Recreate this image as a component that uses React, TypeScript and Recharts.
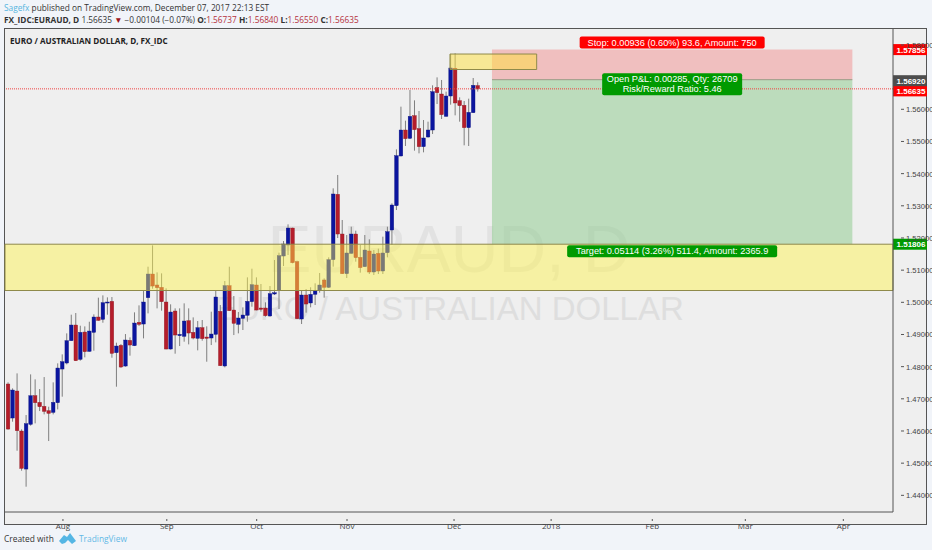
import {
  ComposedChart,
  Bar,
  XAxis,
  YAxis,
  ReferenceArea,
  ReferenceLine,
} from "recharts";

const opens = [
  1.4746, 1.46403, 1.47242, 1.45999, 1.44817, 1.46206, 1.47097, 1.4689, 1.46765, 1.46631, 1.46579, 1.46879, 1.47926,
  1.48113, 1.48807, 1.49294, 1.48227, 1.49076, 1.48475, 1.49066, 1.49543, 1.4947, 1.49988, 1.5003, 1.48434, 1.48662,
  1.48019, 1.48817, 1.48651, 1.49377, 1.49325, 1.50144, 1.50879, 1.50538, 1.50465, 1.50009, 1.48548, 1.49729, 1.48963,
  1.48942, 1.49429, 1.49066, 1.4888, 1.49211, 1.48921, 1.4889, 1.49004, 1.49719, 1.4802, 1.50517, 1.4976, 1.49315,
  1.49501, 1.49595, 1.50019, 1.50538, 1.49823, 1.49823, 1.49574, 1.50258, 1.50372, 1.51439, 1.51781, 1.52309, 1.51263,
  1.49481, 1.50227, 1.49979, 1.50248, 1.50362, 1.50694, 1.50466, 1.51326, 1.53357, 1.52123, 1.5089, 1.51522, 1.52123,
  1.51398, 1.51108, 1.51595, 1.50942, 1.51522, 1.50973, 1.51543, 1.52248, 1.53004, 1.54548, 1.55356, 1.55097, 1.55802,
  1.55398, 1.54838, 1.55139, 1.55356, 1.56672, 1.56475, 1.55781, 1.56413, 1.57273, 1.56268, 1.56123, 1.55429, 1.55895,
  1.56737,
];
const highs = [
  1.47512, 1.47325, 1.47791, 1.46051, 1.46496, 1.4776, 1.47605, 1.47304, 1.47677, 1.46755, 1.47512, 1.48102, 1.48382,
  1.49035, 1.49615, 1.49667, 1.49273, 1.49252, 1.49397, 1.49625, 1.50144, 1.50216, 1.50154, 1.50164, 1.48745, 1.48703,
  1.49014, 1.4891, 1.49688, 1.49905, 1.50351, 1.51107, 1.5177, 1.50931, 1.509, 1.50434, 1.49937, 1.49812, 1.49812,
  1.49968, 1.49812, 1.49532, 1.49418, 1.4945, 1.49253, 1.49709, 1.50351, 1.49916, 1.50662, 1.51107, 1.50196, 1.49698,
  1.49843, 1.50776, 1.51045, 1.50776, 1.50569, 1.49999, 1.50506, 1.51315, 1.51543, 1.51905, 1.52423, 1.5232, 1.51294,
  1.50382, 1.50413, 1.50466, 1.5059, 1.50911, 1.50745, 1.51398, 1.53543, 1.53958, 1.52559, 1.52092, 1.52351, 1.52227,
  1.51782, 1.52092, 1.51958, 1.51626, 1.51668, 1.52041, 1.52351, 1.53077, 1.54755, 1.56082, 1.55646, 1.566, 1.56278,
  1.55947, 1.55667, 1.55615, 1.56745, 1.56993, 1.56911, 1.56548, 1.57719, 1.5774, 1.56372, 1.56258, 1.5633, 1.56973,
  1.5684,
];
const lows = [
  1.4604, 1.46289, 1.45387, 1.44766, 1.44268, 1.46165, 1.46237, 1.4662, 1.46517, 1.45688, 1.46517, 1.46672, 1.47066,
  1.48071, 1.488, 1.48175, 1.48185, 1.48289, 1.48465, 1.48496, 1.49429, 1.49366, 1.49615, 1.48278, 1.47377, 1.47967,
  1.47999, 1.48341, 1.48641, 1.49263, 1.48879, 1.49656, 1.50423, 1.49812, 1.4974, 1.4854, 1.4853, 1.48403, 1.48641,
  1.48776, 1.48693, 1.48849, 1.48507, 1.48807, 1.48154, 1.48672, 1.48755, 1.4802, 1.47978, 1.4973, 1.48983, 1.49035,
  1.49139, 1.49398, 1.49864, 1.4975, 1.49708, 1.49553, 1.4956, 1.50227, 1.49791, 1.51128, 1.5147, 1.51211, 1.4948,
  1.49325, 1.49678, 1.49844, 1.49916, 1.503, 1.50144, 1.50445, 1.51108, 1.51999, 1.5088, 1.50756, 1.5151, 1.51263,
  1.50922, 1.511, 1.5088, 1.50849, 1.5088, 1.5088, 1.51398, 1.51782, 1.52869, 1.5454, 1.54859, 1.55076, 1.54714,
  1.54631, 1.54662, 1.55118, 1.55232, 1.56164, 1.55698, 1.55771, 1.56144, 1.55812, 1.55615, 1.5488, 1.54859, 1.55885,
  1.5655,
];
const closes = [
  1.46061, 1.47273, 1.46009, 1.44838, 1.46227, 1.47097, 1.46879, 1.46755, 1.4661, 1.46548, 1.4689, 1.47957, 1.48154,
  1.48807, 1.49294, 1.48185, 1.49066, 1.48465, 1.49107, 1.49543, 1.49439, 1.49988, 1.50009, 1.48413, 1.48641, 1.47988,
  1.48828, 1.48672, 1.49356, 1.49315, 1.50009, 1.50879, 1.50506, 1.50455, 1.50019, 1.48548, 1.49698, 1.48983, 1.49004,
  1.49418, 1.49045, 1.4889, 1.49211, 1.48869, 1.4888, 1.49014, 1.50165, 1.4803, 1.50517, 1.4974, 1.49346, 1.49512,
  1.49605, 1.5003, 1.50548, 1.4976, 1.49781, 1.49584, 1.50268, 1.50299, 1.51449, 1.51812, 1.52309, 1.51232, 1.49491,
  1.50227, 1.49947, 1.50248, 1.50372, 1.50538, 1.50466, 1.51326, 1.53367, 1.52123, 1.5089, 1.51533, 1.52123, 1.51388,
  1.51077, 1.51626, 1.50942, 1.51502, 1.50973, 1.51533, 1.52196, 1.53025, 1.54558, 1.55356, 1.55087, 1.55781, 1.55367,
  1.54838, 1.55108, 1.55356, 1.56548, 1.56517, 1.55833, 1.56413, 1.57284, 1.56196, 1.56113, 1.55429, 1.55905, 1.56745,
  1.56635,
];

const dateTicks = [12.1, 35.1, 55, 75, 98.7, 120.2, 142.6, 163.2, 184.9];
const dateLabels = ["Aug", "Sep", "Oct", "Nov", "Dec", "2018", "Feb", "Mar", "Apr"];
const priceTicks = [1.44, 1.45, 1.46, 1.47, 1.48, 1.49, 1.5, 1.51, 1.52, 1.53, 1.54, 1.55, 1.56, 1.58];

const candles = opens.map((open, i) => ({
  i,
  open,
  high: highs[i],
  low: lows[i],
  close: closes[i],
  range: [lows[i], highs[i]],
}));

const ENTRY = 1.5692;
const STOP = 1.57856;
const TARGET = 1.51806;
const LAST = 1.56635;
const ZONE_LOW = 1.50367;
const TOOL_START = 107.1;
const TOOL_END = 186.9;

const sans = "'Open Sans', sans-serif";
const arial = "'Liberation Sans', Arial, sans-serif";

function Candle(props: any) {
  const { x, y, width, height, payload } = props;
  const perUnit = height / (payload.high - payload.low);
  const cx = x + width / 2;
  const top = y + (payload.high - Math.max(payload.open, payload.close)) * perUnit;
  const bodyH = Math.max(Math.abs(payload.open - payload.close) * perUnit, 1);
  const up = payload.close >= payload.open;
  const fill = up ? "#0b159f" : "#b51d2b";
  return (
    <g>
      <line x1={cx} x2={cx} y1={y} y2={y + height} stroke="#7f7f7f" strokeWidth={1} />
      <rect x={cx - 1.8} y={top} width={3.6} height={bodyH} fill={fill} stroke={up ? "#0a1280" : "#8f1822"} strokeWidth={0.4} />
    </g>
  );
}

function PriceTag({ viewBox, text, fill, dy = 0 }: any) {
  const right = viewBox.x + viewBox.width;
  const cy = viewBox.y + dy;
  return (
    <g>
      <rect x={right} y={cy - 5.5} width={34} height={11} fill={fill} />
      <text x={right + 18} y={cy + 3} textAnchor="middle" fontFamily={arial} fontSize={8} fontWeight={700} fill="#ffffff">
        {text}
      </text>
    </g>
  );
}

function Pill({ viewBox, lines, fill, w, dy = 0 }: any) {
  const cx = viewBox.x + viewBox.width / 2;
  const h = lines.length * 10 + 2;
  const cy = viewBox.y + dy;
  return (
    <g>
      <rect x={cx - w / 2} y={cy - h / 2} width={w} height={h} rx={2} fill={fill} />
      {lines.map((t: string, k: number) => (
        <text
          key={t}
          x={cx}
          y={cy - h / 2 + 9 + k * 10}
          textAnchor="middle"
          fontFamily={arial}
          fontSize={9.2}
          fill="#ffffff"
        >
          {t}
        </text>
      ))}
    </g>
  );
}

function DateTick({ x, y, payload }: any) {
  const label = dateLabels[dateTicks.indexOf(payload.value)];
  return (
    <g>
      <line x1={x} x2={x} y1={y - 1} y2={y + 1} stroke="#555" />
      <text x={x} y={y + 9} textAnchor="middle" fontFamily={sans} fontSize={8} fill="#444">
        {label}
      </text>
    </g>
  );
}

function PriceTick({ x, y, payload }: any) {
  return (
    <g>
      <line x1={x} x2={x + 3} y1={y} y2={y} stroke="#555" />
      <text x={x + 5} y={y + 3} fontFamily={arial} fontSize={7.6} fill="#444">
        {payload.value.toFixed(5)}
      </text>
    </g>
  );
}

function Header() {
  const red = { color: "#b5323c" };
  return (
    <div style={{ position: "absolute", left: 4, top: 2, fontFamily: sans, fontSize: 8.3, color: "#333", whiteSpace: "nowrap" }}>
      <div style={{ lineHeight: "12px" }}>
        <span style={{ color: "#56b4e0" }}>Sagefx</span> published on TradingView.com, December 07, 2017 22:13 EST
      </div>
      <div style={{ lineHeight: "12px" }}>
        <b>FX_IDC:EURAUD, D</b> 1.56635 <span style={{ color: "#9c1420" }}>▼</span> −0.00104 (−0.07%) <b>O:</b>
        <span style={red}>1.56737</span> <b>H:</b>
        <span style={red}>1.56840</span> <b>L:</b>
        <span style={red}>1.56550</span> <b>C:</b>
        <span style={red}>1.56635</span>
      </div>
    </div>
  );
}

function Footer() {
  return (
    <div style={{ position: "absolute", left: 4, top: 532, fontFamily: sans, fontSize: 8.4, lineHeight: "13px", color: "#333", whiteSpace: "nowrap" }}>
      Created with
      <svg width={17} height={11} style={{ position: "absolute", left: 55, top: 1 }}>
        <path d="M0 8 L5 2 L8 4 L11 0 L17 8 L13 11 L9 7 L6 10 L3 11 Z" fill="#55b6e4" />
      </svg>
      <span style={{ position: "absolute", left: 75, color: "#63b9e6" }}>TradingView</span>
    </div>
  );
}

export default function App() {
  return (
    <div style={{ position: "absolute", left: 0, top: 0, width: 932, height: 550, background: "#f1f4f9", overflow: "hidden" }}>
      <Header />
      <div style={{ position: "absolute", left: 4, top: 28, width: 923, height: 497, background: "#efefef", boxSizing: "border-box", border: "1px solid #555" }} />
      <div style={{ position: "absolute", left: 10, top: 35, fontFamily: sans, fontSize: 8.1, fontWeight: 700, color: "#222", whiteSpace: "nowrap" }}>
        EURO / AUSTRALIAN DOLLAR, D, FX_IDC
      </div>
      <div style={{ position: "absolute", left: 5, width: 888, top: 204, textAlign: "center", fontFamily: arial, fontSize: 66, lineHeight: "90px", color: "#e2e2e2", whiteSpace: "nowrap" }}>
        EURAUD, D
      </div>
      <div style={{ position: "absolute", left: 5, width: 888, top: 289, textAlign: "center", fontFamily: arial, fontSize: 33, lineHeight: "40px", color: "#dedede", whiteSpace: "nowrap" }}>
        EURO / AUSTRALIAN DOLLAR
      </div>
      <ComposedChart
        width={932}
        height={550}
        data={candles}
        margin={{ top: 29, right: 5, bottom: 26, left: 5 }}
        style={{ position: "absolute", left: 0, top: 0 }}
      >
        <XAxis
          dataKey="i"
          type="number"
          domain={[-0.73, 195.9]}
          ticks={dateTicks}
          interval={0}
          height={12}
          tick={<DateTick />}
          tickLine={false}
          axisLine={{ stroke: "#555" }}
          allowDataOverflow
        />
        <YAxis
          orientation="right"
          type="number"
          domain={[1.43482, 1.58496]}
          ticks={priceTicks}
          interval={0}
          width={34}
          tick={<PriceTick />}
          tickLine={false}
          axisLine={{ stroke: "#555" }}
          allowDataOverflow
        />
        <ReferenceArea x1={TOOL_START} x2={TOOL_END} y1={ENTRY} y2={STOP} fill="#f29090" fillOpacity={0.5} stroke="none" />
        <ReferenceArea x1={TOOL_START} x2={TOOL_END} y1={TARGET} y2={ENTRY} fill="#92cc92" fillOpacity={0.55} stroke="none" />
        <Bar dataKey="range" barSize={4} isAnimationActive={false} shape={<Candle />} />
        <ReferenceArea
          y1={ZONE_LOW}
          y2={TARGET}
          fill="#fff546"
          fillOpacity={0.45}
          stroke="#8f8a4a"
          strokeWidth={1}
          zIndex={350}
        />
        <ReferenceArea
          x1={97.8}
          x2={117}
          y1={1.57237}
          y2={1.57718}
          fill="#ffe23c"
          fillOpacity={0.5}
          stroke="#8f8a4a"
          strokeWidth={1}
          zIndex={350}
        />
        <ReferenceLine
          segment={[{ x: TOOL_START, y: ENTRY }, { x: TOOL_END, y: ENTRY }]}
          stroke="#9a9a84"
          strokeWidth={1}
          zIndex={360}
        />
        <ReferenceLine y={LAST} stroke="#f04040" strokeWidth={1} strokeDasharray="1 1" zIndex={370} label={<PriceTag text="1.56635" fill="#ff0000" dy={2} />} />
        <ReferenceLine y={ENTRY} stroke="none" label={<PriceTag text="1.56920" fill="#4d4d4d" dy={1} />} />
        <ReferenceLine y={STOP} stroke="none" label={<PriceTag text="1.57856" fill="#ff0000" />} />
        <ReferenceLine y={TARGET} stroke="none" label={<PriceTag text="1.51806" fill="#009a00" />} />
        <ReferenceLine
          segment={[{ x: TOOL_START, y: STOP }, { x: TOOL_END, y: STOP }]}
          stroke="none"
          label={<Pill lines={["Stop: 0.00936 (0.60%) 93.6, Amount: 750"]} fill="#ff0000" w={185} dy={-7} />}
        />
        <ReferenceLine
          segment={[{ x: TOOL_START, y: ENTRY }, { x: TOOL_END, y: ENTRY }]}
          stroke="none"
          label={<Pill lines={["Open P&L: 0.00285, Qty: 26709", "Risk/Reward Ratio: 5.46"]} fill="#009a00" w={140} dy={4.5} />}
        />
        <ReferenceLine
          segment={[{ x: TOOL_START, y: TARGET }, { x: TOOL_END, y: TARGET }]}
          stroke="none"
          label={<Pill lines={["Target: 0.05114 (3.26%) 511.4, Amount: 2365.9"]} fill="#009a00" w={210} dy={7} />}
        />
      </ComposedChart>
      <Footer />
    </div>
  );
}
